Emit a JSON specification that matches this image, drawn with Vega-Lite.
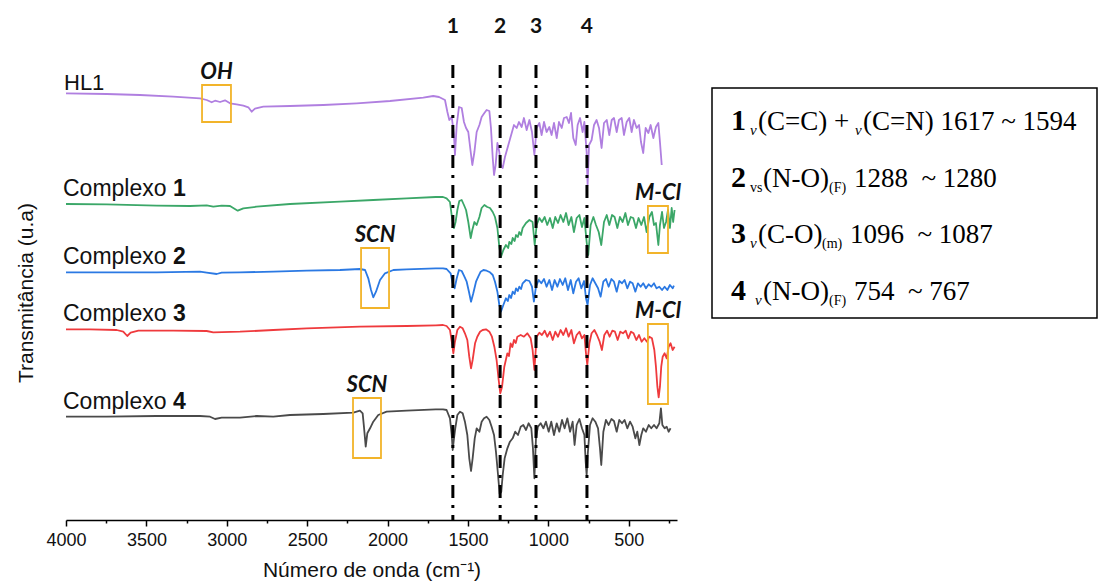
{
"$schema":"https://vega.github.io/schema/vega-lite/v6.json",
"width":611,"height":455,
"autosize":{"type":"none"},
"padding":{"left":66,"top":65,"right":422,"bottom":68},
"background":"white",
"config":{"view":{"stroke":null},"font":"Liberation Sans"},
"datasets":{
"spectra":[
{"series":"HL1","wn":4000,"t":426.7},{"series":"HL1","wn":3747,"t":426},{"series":"HL1","wn":3540,"t":425},{"series":"HL1","wn":3333,"t":423.3},{"series":"HL1","wn":3167,"t":421.7},{"series":"HL1","wn":3125,"t":420},{"series":"HL1","wn":3094,"t":417.7},{"series":"HL1","wn":3073,"t":419.3},{"series":"HL1","wn":3042,"t":418},{"series":"HL1","wn":3011,"t":419.7},{"series":"HL1","wn":2980,"t":416.7},{"series":"HL1","wn":2939,"t":415.7},{"series":"HL1","wn":2897,"t":414.3},{"series":"HL1","wn":2866,"t":412.7},{"series":"HL1","wn":2845,"t":408.3},{"series":"HL1","wn":2825,"t":411.3},{"series":"HL1","wn":2773,"t":413.3},{"series":"HL1","wn":2607,"t":414},{"series":"HL1","wn":2400,"t":415},{"series":"HL1","wn":2192,"t":416.7},{"series":"HL1","wn":1985,"t":419},{"series":"HL1","wn":1778,"t":422.3},{"series":"HL1","wn":1716,"t":424},{"series":"HL1","wn":1680,"t":423},
{"series":"HL1","wn":1643,"t":420},{"series":"HL1","wn":1628,"t":408},{"series":"HL1","wn":1616,"t":400},{"series":"HL1","wn":1601,"t":403},{"series":"HL1","wn":1587,"t":385},{"series":"HL1","wn":1581,"t":365},{"series":"HL1","wn":1570,"t":395},{"series":"HL1","wn":1556,"t":413},{"series":"HL1","wn":1539,"t":412},{"series":"HL1","wn":1525,"t":398},{"series":"HL1","wn":1512,"t":392},{"series":"HL1","wn":1498,"t":388},{"series":"HL1","wn":1483,"t":368},{"series":"HL1","wn":1473,"t":355},{"series":"HL1","wn":1460,"t":368},{"series":"HL1","wn":1446,"t":388},{"series":"HL1","wn":1429,"t":395},{"series":"HL1","wn":1415,"t":403},{"series":"HL1","wn":1398,"t":407},{"series":"HL1","wn":1384,"t":410},{"series":"HL1","wn":1367,"t":409},{"series":"HL1","wn":1357,"t":392},{"series":"HL1","wn":1346,"t":362},{"series":"HL1","wn":1338,"t":345},{"series":"HL1","wn":1328,"t":355},{"series":"HL1","wn":1317,"t":377},{"series":"HL1","wn":1305,"t":368},{"series":"HL1","wn":1295,"t":355},{"series":"HL1","wn":1284,"t":352},{"series":"HL1","wn":1270,"t":363},{"series":"HL1","wn":1249,"t":375},{"series":"HL1","wn":1228,"t":387},{"series":"HL1","wn":1214,"t":395},{"series":"HL1","wn":1197,"t":392},{"series":"HL1","wn":1183,"t":398},{"series":"HL1","wn":1166,"t":393},{"series":"HL1","wn":1152,"t":402},{"series":"HL1","wn":1135,"t":390},{"series":"HL1","wn":1118,"t":400},{"series":"HL1","wn":1102,"t":388},{"series":"HL1","wn":1087,"t":365},{"series":"HL1","wn":1073,"t":392},{"series":"HL1","wn":1056,"t":397},{"series":"HL1","wn":1042,"t":385},{"series":"HL1","wn":1027,"t":398},{"series":"HL1","wn":1011,"t":388},{"series":"HL1","wn":994,"t":393},{"series":"HL1","wn":980,"t":385},{"series":"HL1","wn":965,"t":397},{"series":"HL1","wn":948,"t":382},{"series":"HL1","wn":934,"t":398},{"series":"HL1","wn":917,"t":392},{"series":"HL1","wn":903,"t":402},{"series":"HL1","wn":886,"t":403},{"series":"HL1","wn":872,"t":397},{"series":"HL1","wn":859,"t":407},{"series":"HL1","wn":845,"t":382},{"series":"HL1","wn":830,"t":375},{"series":"HL1","wn":818,"t":395},{"series":"HL1","wn":803,"t":402},{"series":"HL1","wn":787,"t":388},{"series":"HL1","wn":776,"t":398},{"series":"HL1","wn":762,"t":368},{"series":"HL1","wn":756,"t":335},{"series":"HL1","wn":747,"t":375},{"series":"HL1","wn":731,"t":380},{"series":"HL1","wn":716,"t":395},{"series":"HL1","wn":700,"t":400},{"series":"HL1","wn":685,"t":392},{"series":"HL1","wn":669,"t":372},{"series":"HL1","wn":654,"t":397},{"series":"HL1","wn":637,"t":400},{"series":"HL1","wn":621,"t":385},{"series":"HL1","wn":606,"t":400},{"series":"HL1","wn":592,"t":402},{"series":"HL1","wn":575,"t":388},{"series":"HL1","wn":561,"t":400},{"series":"HL1","wn":544,"t":402},{"series":"HL1","wn":530,"t":385},{"series":"HL1","wn":513,"t":398},{"series":"HL1","wn":497,"t":402},{"series":"HL1","wn":482,"t":388},{"series":"HL1","wn":468,"t":400},{"series":"HL1","wn":451,"t":392},{"series":"HL1","wn":436,"t":395},{"series":"HL1","wn":424,"t":378},{"series":"HL1","wn":410,"t":367},{"series":"HL1","wn":395,"t":392},{"series":"HL1","wn":378,"t":387},{"series":"HL1","wn":364,"t":395},{"series":"HL1","wn":347,"t":382},{"series":"HL1","wn":331,"t":393},{"series":"HL1","wn":316,"t":397},{"series":"HL1","wn":306,"t":378},{"series":"HL1","wn":295,"t":355},
{"series":"Complexo 1","wn":4000,"t":316},{"series":"Complexo 1","wn":3747,"t":315.7},{"series":"Complexo 1","wn":3436,"t":314.3},{"series":"Complexo 1","wn":3229,"t":314},{"series":"Complexo 1","wn":3125,"t":314.7},{"series":"Complexo 1","wn":3084,"t":313.3},{"series":"Complexo 1","wn":3032,"t":314.3},{"series":"Complexo 1","wn":2980,"t":314},{"series":"Complexo 1","wn":2932,"t":309.3},{"series":"Complexo 1","wn":2897,"t":311.7},{"series":"Complexo 1","wn":2814,"t":313.3},{"series":"Complexo 1","wn":2607,"t":316},{"series":"Complexo 1","wn":2296,"t":318.3},{"series":"Complexo 1","wn":2089,"t":320},{"series":"Complexo 1","wn":1881,"t":321.7},{"series":"Complexo 1","wn":1700,"t":323},{"series":"Complexo 1","wn":1655,"t":323},
{"series":"Complexo 1","wn":1633,"t":321.7},{"series":"Complexo 1","wn":1612,"t":318},{"series":"Complexo 1","wn":1599,"t":302},{"series":"Complexo 1","wn":1587,"t":292},{"series":"Complexo 1","wn":1577,"t":298},{"series":"Complexo 1","wn":1566,"t":310},{"series":"Complexo 1","wn":1554,"t":319},{"series":"Complexo 1","wn":1539,"t":320},{"series":"Complexo 1","wn":1525,"t":315},{"series":"Complexo 1","wn":1512,"t":310},{"series":"Complexo 1","wn":1498,"t":298},{"series":"Complexo 1","wn":1483,"t":282},{"series":"Complexo 1","wn":1473,"t":290},{"series":"Complexo 1","wn":1460,"t":298},{"series":"Complexo 1","wn":1446,"t":295},{"series":"Complexo 1","wn":1429,"t":303},{"series":"Complexo 1","wn":1415,"t":312},{"series":"Complexo 1","wn":1398,"t":315},{"series":"Complexo 1","wn":1380,"t":313},{"series":"Complexo 1","wn":1363,"t":312},{"series":"Complexo 1","wn":1346,"t":308},{"series":"Complexo 1","wn":1332,"t":303},{"series":"Complexo 1","wn":1317,"t":292},{"series":"Complexo 1","wn":1305,"t":273},{"series":"Complexo 1","wn":1295,"t":263},{"series":"Complexo 1","wn":1280,"t":270},{"series":"Complexo 1","wn":1264,"t":275},{"series":"Complexo 1","wn":1250,"t":272},{"series":"Complexo 1","wn":1243,"t":278},{"series":"Complexo 1","wn":1230,"t":276},{"series":"Complexo 1","wn":1222,"t":282},{"series":"Complexo 1","wn":1210,"t":279},{"series":"Complexo 1","wn":1201,"t":285},{"series":"Complexo 1","wn":1190,"t":283},{"series":"Complexo 1","wn":1181,"t":288},{"series":"Complexo 1","wn":1170,"t":285},{"series":"Complexo 1","wn":1160,"t":292},{"series":"Complexo 1","wn":1139,"t":297},{"series":"Complexo 1","wn":1118,"t":300},{"series":"Complexo 1","wn":1098,"t":298},{"series":"Complexo 1","wn":1085,"t":275},{"series":"Complexo 1","wn":1073,"t":295},{"series":"Complexo 1","wn":1056,"t":302},{"series":"Complexo 1","wn":1040,"t":298},{"series":"Complexo 1","wn":1023,"t":303},{"series":"Complexo 1","wn":1007,"t":295},{"series":"Complexo 1","wn":990,"t":302},{"series":"Complexo 1","wn":973,"t":292},{"series":"Complexo 1","wn":957,"t":303},{"series":"Complexo 1","wn":940,"t":297},{"series":"Complexo 1","wn":924,"t":305},{"series":"Complexo 1","wn":907,"t":298},{"series":"Complexo 1","wn":890,"t":307},{"series":"Complexo 1","wn":874,"t":295},{"series":"Complexo 1","wn":857,"t":303},{"series":"Complexo 1","wn":841,"t":288},{"series":"Complexo 1","wn":824,"t":302},{"series":"Complexo 1","wn":807,"t":305},{"series":"Complexo 1","wn":791,"t":293},{"series":"Complexo 1","wn":776,"t":302},{"series":"Complexo 1","wn":762,"t":278},{"series":"Complexo 1","wn":752,"t":265},{"series":"Complexo 1","wn":737,"t":295},{"series":"Complexo 1","wn":720,"t":303},{"series":"Complexo 1","wn":704,"t":295},{"series":"Complexo 1","wn":687,"t":288},{"series":"Complexo 1","wn":671,"t":275},{"series":"Complexo 1","wn":654,"t":298},{"series":"Complexo 1","wn":637,"t":305},{"series":"Complexo 1","wn":621,"t":295},{"series":"Complexo 1","wn":604,"t":305},{"series":"Complexo 1","wn":588,"t":303},{"series":"Complexo 1","wn":571,"t":292},{"series":"Complexo 1","wn":555,"t":303},{"series":"Complexo 1","wn":538,"t":298},{"series":"Complexo 1","wn":521,"t":307},{"series":"Complexo 1","wn":505,"t":295},{"series":"Complexo 1","wn":488,"t":303},{"series":"Complexo 1","wn":472,"t":302},{"series":"Complexo 1","wn":455,"t":292},{"series":"Complexo 1","wn":439,"t":302},{"series":"Complexo 1","wn":422,"t":295},{"series":"Complexo 1","wn":405,"t":303},{"series":"Complexo 1","wn":389,"t":288},{"series":"Complexo 1","wn":372,"t":303},{"series":"Complexo 1","wn":356,"t":308},{"series":"Complexo 1","wn":343,"t":295},{"series":"Complexo 1","wn":331,"t":297},{"series":"Complexo 1","wn":316,"t":275},{"series":"Complexo 1","wn":306,"t":295},{"series":"Complexo 1","wn":293,"t":308},{"series":"Complexo 1","wn":281,"t":292},{"series":"Complexo 1","wn":268,"t":298},{"series":"Complexo 1","wn":256,"t":310},{"series":"Complexo 1","wn":244,"t":292},{"series":"Complexo 1","wn":233,"t":312},{"series":"Complexo 1","wn":224,"t":298},{"series":"Complexo 1","wn":215,"t":310},
{"series":"Complexo 2","wn":4000,"t":247.7},{"series":"Complexo 2","wn":3747,"t":247.7},{"series":"Complexo 2","wn":3436,"t":247.7},{"series":"Complexo 2","wn":3167,"t":248.3},{"series":"Complexo 2","wn":3125,"t":247.3},{"series":"Complexo 2","wn":3063,"t":246},{"series":"Complexo 2","wn":3032,"t":247.3},{"series":"Complexo 2","wn":2918,"t":247.7},{"series":"Complexo 2","wn":2711,"t":248.3},{"series":"Complexo 2","wn":2503,"t":249.3},{"series":"Complexo 2","wn":2296,"t":250},{"series":"Complexo 2","wn":2172,"t":251},{"series":"Complexo 2","wn":2140,"t":250},{"series":"Complexo 2","wn":2120,"t":241.7},{"series":"Complexo 2","wn":2103,"t":230},{"series":"Complexo 2","wn":2089,"t":222.7},{"series":"Complexo 2","wn":2072,"t":228.3},{"series":"Complexo 2","wn":2047,"t":240},{"series":"Complexo 2","wn":2016,"t":246.7},{"series":"Complexo 2","wn":1964,"t":250},{"series":"Complexo 2","wn":1881,"t":250.7},{"series":"Complexo 2","wn":1700,"t":251.7},{"series":"Complexo 2","wn":1655,"t":251.7},
{"series":"Complexo 2","wn":1633,"t":251},{"series":"Complexo 2","wn":1608,"t":246.7},{"series":"Complexo 2","wn":1595,"t":236.7},{"series":"Complexo 2","wn":1583,"t":231.7},{"series":"Complexo 2","wn":1570,"t":241.7},{"series":"Complexo 2","wn":1556,"t":250},{"series":"Complexo 2","wn":1539,"t":249},{"series":"Complexo 2","wn":1525,"t":244.3},{"series":"Complexo 2","wn":1508,"t":238.3},{"series":"Complexo 2","wn":1494,"t":228.3},{"series":"Complexo 2","wn":1481,"t":218.3},{"series":"Complexo 2","wn":1467,"t":226.7},{"series":"Complexo 2","wn":1450,"t":238.3},{"series":"Complexo 2","wn":1436,"t":243.3},{"series":"Complexo 2","wn":1421,"t":248.3},{"series":"Complexo 2","wn":1404,"t":250},{"series":"Complexo 2","wn":1384,"t":249.3},{"series":"Complexo 2","wn":1363,"t":247.7},{"series":"Complexo 2","wn":1346,"t":245},{"series":"Complexo 2","wn":1332,"t":238.3},{"series":"Complexo 2","wn":1317,"t":228.3},{"series":"Complexo 2","wn":1305,"t":215},{"series":"Complexo 2","wn":1295,"t":208.3},{"series":"Complexo 2","wn":1280,"t":215},{"series":"Complexo 2","wn":1264,"t":221.7},{"series":"Complexo 2","wn":1252,"t":219},{"series":"Complexo 2","wn":1243,"t":225},{"series":"Complexo 2","wn":1232,"t":222},{"series":"Complexo 2","wn":1222,"t":228.3},{"series":"Complexo 2","wn":1210,"t":226},{"series":"Complexo 2","wn":1201,"t":231.7},{"series":"Complexo 2","wn":1190,"t":229},{"series":"Complexo 2","wn":1181,"t":233.3},{"series":"Complexo 2","wn":1170,"t":231},{"series":"Complexo 2","wn":1160,"t":236.7},{"series":"Complexo 2","wn":1139,"t":240},{"series":"Complexo 2","wn":1118,"t":239},{"series":"Complexo 2","wn":1102,"t":233.3},{"series":"Complexo 2","wn":1090,"t":218.3},{"series":"Complexo 2","wn":1077,"t":233.3},{"series":"Complexo 2","wn":1060,"t":240},{"series":"Complexo 2","wn":1044,"t":236.7},{"series":"Complexo 2","wn":1027,"t":241},{"series":"Complexo 2","wn":1011,"t":233.3},{"series":"Complexo 2","wn":994,"t":240},{"series":"Complexo 2","wn":977,"t":230},{"series":"Complexo 2","wn":961,"t":240},{"series":"Complexo 2","wn":944,"t":233.3},{"series":"Complexo 2","wn":928,"t":241},{"series":"Complexo 2","wn":911,"t":235},{"series":"Complexo 2","wn":895,"t":241.7},{"series":"Complexo 2","wn":878,"t":230},{"series":"Complexo 2","wn":861,"t":240},{"series":"Complexo 2","wn":845,"t":226.7},{"series":"Complexo 2","wn":828,"t":238.3},{"series":"Complexo 2","wn":812,"t":241.7},{"series":"Complexo 2","wn":795,"t":231.7},{"series":"Complexo 2","wn":778,"t":239},{"series":"Complexo 2","wn":766,"t":221.7},{"series":"Complexo 2","wn":756,"t":215},{"series":"Complexo 2","wn":741,"t":235},{"series":"Complexo 2","wn":725,"t":241.7},{"series":"Complexo 2","wn":708,"t":236.7},{"series":"Complexo 2","wn":691,"t":231.7},{"series":"Complexo 2","wn":675,"t":223.3},{"series":"Complexo 2","wn":658,"t":238.3},{"series":"Complexo 2","wn":642,"t":241},{"series":"Complexo 2","wn":625,"t":233.3},{"series":"Complexo 2","wn":608,"t":241},{"series":"Complexo 2","wn":592,"t":238.3},{"series":"Complexo 2","wn":575,"t":228.3},{"series":"Complexo 2","wn":559,"t":239},{"series":"Complexo 2","wn":542,"t":236.7},{"series":"Complexo 2","wn":526,"t":240},{"series":"Complexo 2","wn":509,"t":231.7},{"series":"Complexo 2","wn":492,"t":238.3},{"series":"Complexo 2","wn":476,"t":236.7},{"series":"Complexo 2","wn":459,"t":228.3},{"series":"Complexo 2","wn":443,"t":236.7},{"series":"Complexo 2","wn":426,"t":233.3},{"series":"Complexo 2","wn":410,"t":236.7},{"series":"Complexo 2","wn":393,"t":231.7},{"series":"Complexo 2","wn":376,"t":235.7},{"series":"Complexo 2","wn":360,"t":233.3},{"series":"Complexo 2","wn":343,"t":236.7},{"series":"Complexo 2","wn":327,"t":231.7},{"series":"Complexo 2","wn":310,"t":233.3},{"series":"Complexo 2","wn":293,"t":230},{"series":"Complexo 2","wn":277,"t":233.3},{"series":"Complexo 2","wn":260,"t":230},{"series":"Complexo 2","wn":244,"t":235},{"series":"Complexo 2","wn":227,"t":231.7},{"series":"Complexo 2","wn":219,"t":234.3},
{"series":"Complexo 3","wn":4000,"t":190.7},{"series":"Complexo 3","wn":3851,"t":190.7},{"series":"Complexo 3","wn":3685,"t":190},{"series":"Complexo 3","wn":3644,"t":188.3},{"series":"Complexo 3","wn":3619,"t":184},{"series":"Complexo 3","wn":3598,"t":187.3},{"series":"Complexo 3","wn":3550,"t":189.3},{"series":"Complexo 3","wn":3333,"t":189.3},{"series":"Complexo 3","wn":3125,"t":189},{"series":"Complexo 3","wn":3084,"t":187.7},{"series":"Complexo 3","wn":2918,"t":188.3},{"series":"Complexo 3","wn":2711,"t":190},{"series":"Complexo 3","wn":2503,"t":191.7},{"series":"Complexo 3","wn":2172,"t":193.3},{"series":"Complexo 3","wn":1881,"t":194},{"series":"Complexo 3","wn":1700,"t":194.7},{"series":"Complexo 3","wn":1655,"t":195},
{"series":"Complexo 3","wn":1633,"t":194},{"series":"Complexo 3","wn":1612,"t":190},{"series":"Complexo 3","wn":1599,"t":176.7},{"series":"Complexo 3","wn":1591,"t":166.7},{"series":"Complexo 3","wn":1581,"t":178.3},{"series":"Complexo 3","wn":1566,"t":190},{"series":"Complexo 3","wn":1550,"t":193.3},{"series":"Complexo 3","wn":1533,"t":191.7},{"series":"Complexo 3","wn":1519,"t":186.7},{"series":"Complexo 3","wn":1504,"t":180},{"series":"Complexo 3","wn":1492,"t":163.3},{"series":"Complexo 3","wn":1481,"t":151.7},{"series":"Complexo 3","wn":1471,"t":160},{"series":"Complexo 3","wn":1456,"t":176.7},{"series":"Complexo 3","wn":1442,"t":183.3},{"series":"Complexo 3","wn":1425,"t":188.3},{"series":"Complexo 3","wn":1409,"t":190},{"series":"Complexo 3","wn":1388,"t":190.7},{"series":"Complexo 3","wn":1367,"t":188.3},{"series":"Complexo 3","wn":1351,"t":183.3},{"series":"Complexo 3","wn":1336,"t":173.3},{"series":"Complexo 3","wn":1322,"t":160},{"series":"Complexo 3","wn":1309,"t":140},{"series":"Complexo 3","wn":1299,"t":126.7},{"series":"Complexo 3","wn":1288,"t":133.3},{"series":"Complexo 3","wn":1274,"t":153.3},{"series":"Complexo 3","wn":1255,"t":166.7},{"series":"Complexo 3","wn":1245,"t":164},{"series":"Complexo 3","wn":1235,"t":176.7},{"series":"Complexo 3","wn":1224,"t":173},{"series":"Complexo 3","wn":1214,"t":180},{"series":"Complexo 3","wn":1203,"t":177},{"series":"Complexo 3","wn":1193,"t":183.3},{"series":"Complexo 3","wn":1172,"t":185},{"series":"Complexo 3","wn":1152,"t":183.3},{"series":"Complexo 3","wn":1131,"t":186.7},{"series":"Complexo 3","wn":1110,"t":181.7},{"series":"Complexo 3","wn":1098,"t":170},{"series":"Complexo 3","wn":1087,"t":150},{"series":"Complexo 3","wn":1073,"t":183.3},{"series":"Complexo 3","wn":1056,"t":187.3},{"series":"Complexo 3","wn":1040,"t":185},{"series":"Complexo 3","wn":1023,"t":189.3},{"series":"Complexo 3","wn":1007,"t":183.3},{"series":"Complexo 3","wn":990,"t":188.3},{"series":"Complexo 3","wn":973,"t":180},{"series":"Complexo 3","wn":957,"t":188.3},{"series":"Complexo 3","wn":940,"t":183.3},{"series":"Complexo 3","wn":924,"t":190},{"series":"Complexo 3","wn":907,"t":185},{"series":"Complexo 3","wn":890,"t":191.7},{"series":"Complexo 3","wn":874,"t":183.3},{"series":"Complexo 3","wn":857,"t":190},{"series":"Complexo 3","wn":841,"t":176.7},{"series":"Complexo 3","wn":824,"t":185},{"series":"Complexo 3","wn":807,"t":188.3},{"series":"Complexo 3","wn":791,"t":181.7},{"series":"Complexo 3","wn":776,"t":185},{"series":"Complexo 3","wn":766,"t":166.7},{"series":"Complexo 3","wn":758,"t":155},{"series":"Complexo 3","wn":745,"t":176.7},{"series":"Complexo 3","wn":731,"t":186.7},{"series":"Complexo 3","wn":714,"t":190},{"series":"Complexo 3","wn":698,"t":185},{"series":"Complexo 3","wn":681,"t":178.3},{"series":"Complexo 3","wn":667,"t":170},{"series":"Complexo 3","wn":652,"t":185},{"series":"Complexo 3","wn":635,"t":189.3},{"series":"Complexo 3","wn":619,"t":183.3},{"series":"Complexo 3","wn":602,"t":189.3},{"series":"Complexo 3","wn":586,"t":188.3},{"series":"Complexo 3","wn":569,"t":180},{"series":"Complexo 3","wn":553,"t":188.3},{"series":"Complexo 3","wn":536,"t":186.7},{"series":"Complexo 3","wn":519,"t":189.3},{"series":"Complexo 3","wn":503,"t":181.7},{"series":"Complexo 3","wn":486,"t":188.3},{"series":"Complexo 3","wn":470,"t":186.7},{"series":"Complexo 3","wn":453,"t":180},{"series":"Complexo 3","wn":436,"t":185},{"series":"Complexo 3","wn":420,"t":178.3},{"series":"Complexo 3","wn":403,"t":181.7},{"series":"Complexo 3","wn":387,"t":178.3},{"series":"Complexo 3","wn":372,"t":183.3},{"series":"Complexo 3","wn":356,"t":181.7},{"series":"Complexo 3","wn":341,"t":170},{"series":"Complexo 3","wn":331,"t":153.3},{"series":"Complexo 3","wn":322,"t":133.3},{"series":"Complexo 3","wn":314,"t":122.7},{"series":"Complexo 3","wn":306,"t":133.3},{"series":"Complexo 3","wn":298,"t":153.3},{"series":"Complexo 3","wn":289,"t":163.3},{"series":"Complexo 3","wn":277,"t":166.7},{"series":"Complexo 3","wn":264,"t":161.7},{"series":"Complexo 3","wn":252,"t":173.3},{"series":"Complexo 3","wn":240,"t":176.7},{"series":"Complexo 3","wn":227,"t":170},{"series":"Complexo 3","wn":215,"t":173.3},
{"series":"Complexo 4","wn":4000,"t":103.3},{"series":"Complexo 4","wn":3747,"t":103.3},{"series":"Complexo 4","wn":3436,"t":104},{"series":"Complexo 4","wn":3167,"t":104},{"series":"Complexo 4","wn":3104,"t":103.3},{"series":"Complexo 4","wn":3073,"t":101},{"series":"Complexo 4","wn":3032,"t":102.3},{"series":"Complexo 4","wn":2918,"t":102.3},{"series":"Complexo 4","wn":2814,"t":104},{"series":"Complexo 4","wn":2711,"t":103.3},{"series":"Complexo 4","wn":2607,"t":105},{"series":"Complexo 4","wn":2400,"t":106},{"series":"Complexo 4","wn":2213,"t":107.3},{"series":"Complexo 4","wn":2172,"t":109.3},{"series":"Complexo 4","wn":2155,"t":106.7},{"series":"Complexo 4","wn":2147,"t":93.3},{"series":"Complexo 4","wn":2136,"t":73.3},{"series":"Complexo 4","wn":2126,"t":86.7},{"series":"Complexo 4","wn":2109,"t":91.7},{"series":"Complexo 4","wn":2089,"t":98.3},{"series":"Complexo 4","wn":2058,"t":105},{"series":"Complexo 4","wn":2006,"t":108.3},{"series":"Complexo 4","wn":1881,"t":109.3},{"series":"Complexo 4","wn":1700,"t":110.7},{"series":"Complexo 4","wn":1655,"t":110.7},
{"series":"Complexo 4","wn":1633,"t":110},{"series":"Complexo 4","wn":1612,"t":101.7},{"series":"Complexo 4","wn":1601,"t":85},{"series":"Complexo 4","wn":1595,"t":70},{"series":"Complexo 4","wn":1587,"t":81.7},{"series":"Complexo 4","wn":1579,"t":91.7},{"series":"Complexo 4","wn":1566,"t":105},{"series":"Complexo 4","wn":1550,"t":108.3},{"series":"Complexo 4","wn":1533,"t":106.7},{"series":"Complexo 4","wn":1519,"t":98.3},{"series":"Complexo 4","wn":1504,"t":85},{"series":"Complexo 4","wn":1492,"t":61.7},{"series":"Complexo 4","wn":1481,"t":49},{"series":"Complexo 4","wn":1471,"t":61.7},{"series":"Complexo 4","wn":1458,"t":81.7},{"series":"Complexo 4","wn":1446,"t":91.7},{"series":"Complexo 4","wn":1429,"t":88.3},{"series":"Complexo 4","wn":1415,"t":98.3},{"series":"Complexo 4","wn":1400,"t":101.7},{"series":"Complexo 4","wn":1384,"t":103.3},{"series":"Complexo 4","wn":1367,"t":100},{"series":"Complexo 4","wn":1353,"t":93.3},{"series":"Complexo 4","wn":1338,"t":85},{"series":"Complexo 4","wn":1326,"t":68.3},{"series":"Complexo 4","wn":1313,"t":45},{"series":"Complexo 4","wn":1303,"t":26},{"series":"Complexo 4","wn":1293,"t":28},{"series":"Complexo 4","wn":1284,"t":45},{"series":"Complexo 4","wn":1272,"t":61.7},{"series":"Complexo 4","wn":1255,"t":71.7},{"series":"Complexo 4","wn":1239,"t":78.3},{"series":"Complexo 4","wn":1222,"t":81.7},{"series":"Complexo 4","wn":1206,"t":88.3},{"series":"Complexo 4","wn":1189,"t":85},{"series":"Complexo 4","wn":1172,"t":93.3},{"series":"Complexo 4","wn":1156,"t":95},{"series":"Complexo 4","wn":1139,"t":90},{"series":"Complexo 4","wn":1123,"t":96.7},{"series":"Complexo 4","wn":1106,"t":91.7},{"series":"Complexo 4","wn":1096,"t":71.7},{"series":"Complexo 4","wn":1087,"t":41.7},{"series":"Complexo 4","wn":1077,"t":81.7},{"series":"Complexo 4","wn":1065,"t":93.3},{"series":"Complexo 4","wn":1048,"t":96.7},{"series":"Complexo 4","wn":1031,"t":91.7},{"series":"Complexo 4","wn":1015,"t":98.3},{"series":"Complexo 4","wn":998,"t":88.3},{"series":"Complexo 4","wn":982,"t":98.3},{"series":"Complexo 4","wn":965,"t":85},{"series":"Complexo 4","wn":948,"t":96.7},{"series":"Complexo 4","wn":932,"t":88.3},{"series":"Complexo 4","wn":915,"t":100},{"series":"Complexo 4","wn":899,"t":91.7},{"series":"Complexo 4","wn":882,"t":101.7},{"series":"Complexo 4","wn":865,"t":88.3},{"series":"Complexo 4","wn":849,"t":98.3},{"series":"Complexo 4","wn":837,"t":75},{"series":"Complexo 4","wn":824,"t":95},{"series":"Complexo 4","wn":807,"t":101},{"series":"Complexo 4","wn":791,"t":91.7},{"series":"Complexo 4","wn":776,"t":85},{"series":"Complexo 4","wn":768,"t":58.3},{"series":"Complexo 4","wn":762,"t":45},{"series":"Complexo 4","wn":754,"t":68.3},{"series":"Complexo 4","wn":741,"t":95},{"series":"Complexo 4","wn":725,"t":101.7},{"series":"Complexo 4","wn":708,"t":98.3},{"series":"Complexo 4","wn":691,"t":91.7},{"series":"Complexo 4","wn":679,"t":71.7},{"series":"Complexo 4","wn":671,"t":55},{"series":"Complexo 4","wn":658,"t":88.3},{"series":"Complexo 4","wn":642,"t":100},{"series":"Complexo 4","wn":625,"t":95},{"series":"Complexo 4","wn":608,"t":101},{"series":"Complexo 4","wn":592,"t":99},{"series":"Complexo 4","wn":575,"t":88.3},{"series":"Complexo 4","wn":559,"t":100},{"series":"Complexo 4","wn":542,"t":96.7},{"series":"Complexo 4","wn":526,"t":100},{"series":"Complexo 4","wn":509,"t":91.7},{"series":"Complexo 4","wn":492,"t":98.3},{"series":"Complexo 4","wn":476,"t":93.3},{"series":"Complexo 4","wn":459,"t":81.7},{"series":"Complexo 4","wn":447,"t":88.3},{"series":"Complexo 4","wn":434,"t":75},{"series":"Complexo 4","wn":422,"t":85},{"series":"Complexo 4","wn":410,"t":91.7},{"series":"Complexo 4","wn":393,"t":88.3},{"series":"Complexo 4","wn":376,"t":95},{"series":"Complexo 4","wn":360,"t":91.7},{"series":"Complexo 4","wn":343,"t":95},{"series":"Complexo 4","wn":327,"t":91.7},{"series":"Complexo 4","wn":310,"t":96.7},{"series":"Complexo 4","wn":300,"t":111.7},{"series":"Complexo 4","wn":291,"t":95},{"series":"Complexo 4","wn":277,"t":91.7},{"series":"Complexo 4","wn":264,"t":93.3},{"series":"Complexo 4","wn":252,"t":88.3},{"series":"Complexo 4","wn":240,"t":91.7}
],
"bands":[{"label":"1","wn":1594},{"label":"2","wn":1300},{"label":"3","wn":1077},{"label":"4","wn":760}],
"boxes":[
{"label":"OH","wn":3154,"wn2":2974,"t":435,"t2":398},
{"label":"SCN","wn":2165,"wn2":1991,"t":272,"t2":212},
{"label":"SCN","wn":2215,"wn2":2041,"t":122,"t2":62},
{"label":"M-Cl","wn":381,"wn2":256,"t":314,"t2":267},
{"label":"M-Cl","wn":381,"wn2":256,"t":196,"t2":116}
],
"legend":[
{"line":1,"kind":"num","text":"1","col":19},{"line":1,"kind":"subi","text":"ν","col":38},{"line":1,"kind":"main","text":"(C=C) +","col":46},{"line":1,"kind":"subi","text":"ν","col":143},{"line":1,"kind":"main","text":"(C=N) 1617 ~ 1594","col":151},
{"line":2,"kind":"num","text":"2","col":19},{"line":2,"kind":"sub","text":"vs","col":38},{"line":2,"kind":"main","text":"(N-O)","col":51},{"line":2,"kind":"sub","text":"(F)","col":117},{"line":2,"kind":"main","text":"1288\u00a0\u00a0~ 1280","col":142},
{"line":3,"kind":"num","text":"3","col":19},{"line":3,"kind":"subi","text":"ν","col":38},{"line":3,"kind":"main","text":"(C-O)","col":46},{"line":3,"kind":"sub","text":"(m)","col":110},{"line":3,"kind":"main","text":"1096\u00a0\u00a0~ 1087","col":138},
{"line":4,"kind":"num","text":"4","col":19},{"line":4,"kind":"subi","text":"ν","col":43},{"line":4,"kind":"main","text":"(N-O)","col":51},{"line":4,"kind":"sub","text":"(F)","col":117},{"line":4,"kind":"main","text":"754\u00a0\u00a0~ 767","col":142}
]
},
"layer":[
{"layer":[
 {"layer":[
  {"data":{"name":"spectra"},
   "mark":{"type":"line","strokeWidth":1.8,"strokeJoin":"round"},
   "encoding":{
    "x":{"field":"wn","type":"quantitative","scale":{"domain":[4000,200],"nice":false,"zero":false},
      "axis":{"orient":"bottom","values":[4000,3500,3000,2500,2000,1500,1000,500],"format":"d","title":"Número de onda (cm⁻¹)","grid":false,
        "domainColor":"#000","domainWidth":1.5,"tickColor":"#000","tickSize":6,"tickWidth":1.5,
        "labelFont":"Liberation Sans","labelFontSize":18,"labelColor":"#111","labelPadding":5,"labelOverlap":false,"labelFlush":false,
        "titleFont":"Liberation Sans","titleFontSize":21,"titleFontWeight":"normal","titleColor":"#111","titlePadding":10}},
    "y":{"field":"t","type":"quantitative","scale":{"domain":[0,455],"nice":false,"zero":false},
      "axis":{"title":"Transmitância (u.a)","domain":false,"ticks":false,"labels":false,"grid":false,
        "titleFont":"Liberation Sans","titleFontSize":21,"titleFontWeight":"normal","titleColor":"#111","titlePadding":30}},
    "color":{"field":"series","type":"nominal","legend":null,
      "scale":{"domain":["HL1","Complexo 1","Complexo 2","Complexo 3","Complexo 4"],"range":["#B07FE0","#3BA768","#2B79E3","#EF3A3D","#4A4A4A"]}}
   }},
  {"data":{"name":"spectra"},
   "transform":[{"filter":"datum.wn == 4000 && datum.series == 'HL1'"}],
   "mark":{"type":"text","align":"left","baseline":"alphabetic","dy":-3,"dx":-2,"fontSize":22,"font":"Liberation Sans","color":"#111"},
   "encoding":{"x":{"field":"wn","type":"quantitative"},"y":{"field":"t","type":"quantitative"},"text":{"field":"series"}}},
  {"data":{"name":"spectra"},
   "transform":[{"filter":"datum.wn == 4000 && datum.series != 'HL1'"}],
   "mark":{"type":"text","align":"left","baseline":"alphabetic","dy":-8,"dx":-3,"fontSize":23,"font":"Liberation Sans","color":"#111","text":"Complexo"},
   "encoding":{"x":{"field":"wn","type":"quantitative"},"y":{"field":"t","type":"quantitative"}}},
  {"data":{"name":"spectra"},
   "transform":[{"filter":"datum.wn == 4000 && datum.series != 'HL1'"},{"calculate":"substring(datum.series, 9)","as":"num"}],
   "mark":{"type":"text","align":"left","baseline":"alphabetic","dy":-8,"dx":107,"fontSize":23,"fontWeight":"bold","font":"Liberation Sans","color":"#111"},
   "encoding":{"x":{"field":"wn","type":"quantitative"},"y":{"field":"t","type":"quantitative"},"text":{"field":"num"}}},
  {"data":{"name":"boxes"},
   "mark":{"type":"rect","filled":false,"color":"#F2B42A","strokeWidth":1.8},
   "encoding":{"x":{"field":"wn","type":"quantitative"},"x2":{"field":"wn2"},"y":{"field":"t","type":"quantitative"},"y2":{"field":"t2"}}},
  {"data":{"name":"boxes"},
   "transform":[{"calculate":"(datum.wn + datum.wn2) / 2","as":"mid"}],
   "mark":{"type":"text","align":"center","baseline":"bottom","dy":-1,"fontSize":22,"fontWeight":"bold","fontStyle":"italic","font":"Lato","color":"#111"},
   "encoding":{"x":{"field":"mid","type":"quantitative"},"y":{"field":"t","type":"quantitative"},"text":{"field":"label"}}},
  {"data":{"name":"bands"},
   "mark":{"type":"text","align":"center","baseline":"middle","fontSize":21,"fontWeight":"bold","font":"Lato","color":"#111"},
   "encoding":{"x":{"field":"wn","type":"quantitative"},"y":{"datum":493,"type":"quantitative"},"text":{"field":"label"}}}
 ]},
 {"data":{"name":"bands"},
  "mark":{"type":"rule","strokeDash":[13,7,3,7],"strokeWidth":3,"color":"#000"},
  "encoding":{"x":{"field":"wn","type":"quantitative",
    "axis":{"orient":"bottom","values":[3750,3250,2750,2250,1750,1250,750,250],"labels":false,"domain":false,"grid":false,"title":null,"tickSize":3,"tickWidth":1.5,"tickColor":"#000"}}}}
 ],
 "resolve":{"axis":{"x":"independent"}}
},
{"data":{"values":[{}]},
 "mark":{"type":"rect","filled":false,"color":"#000","strokeWidth":1.5},
 "encoding":{
  "x":{"datum":0,"type":"quantitative","scale":{"domain":[0,385],"range":[646,1031]},"axis":null},
  "x2":{"datum":385},
  "y":{"datum":0,"type":"quantitative","scale":{"domain":[0,230],"range":[23,253]},"axis":null},
  "y2":{"datum":230}}},
{"data":{"name":"legend"},
 "encoding":{
  "x":{"field":"col","type":"quantitative","scale":{"domain":[0,385],"range":[646,1031]},"axis":null},
  "y":{"field":"line","type":"ordinal","scale":{"type":"point","domain":[1,2,3,4],"range":[65,235],"padding":0},"axis":null},
  "text":{"field":"text"}},
 "layer":[
  {"transform":[{"filter":"datum.kind == 'num'"}],"mark":{"type":"text","align":"left","baseline":"alphabetic","font":"Liberation Serif","fontSize":30,"fontWeight":"bold","color":"#000"}},
  {"transform":[{"filter":"datum.kind == 'main'"}],"mark":{"type":"text","align":"left","baseline":"alphabetic","font":"Liberation Serif","fontSize":27,"color":"#000"}},
  {"transform":[{"filter":"datum.kind == 'sub'"}],"mark":{"type":"text","align":"left","baseline":"alphabetic","dy":5,"font":"Liberation Serif","fontSize":14,"color":"#000"}},
  {"transform":[{"filter":"datum.kind == 'subi'"}],"mark":{"type":"text","align":"left","baseline":"alphabetic","dy":5,"font":"Liberation Serif","fontSize":15,"fontStyle":"italic","color":"#000"}}
 ]}
],
"resolve":{"scale":{"x":"independent","y":"independent"},"axis":{"x":"independent","y":"independent"}}
}
